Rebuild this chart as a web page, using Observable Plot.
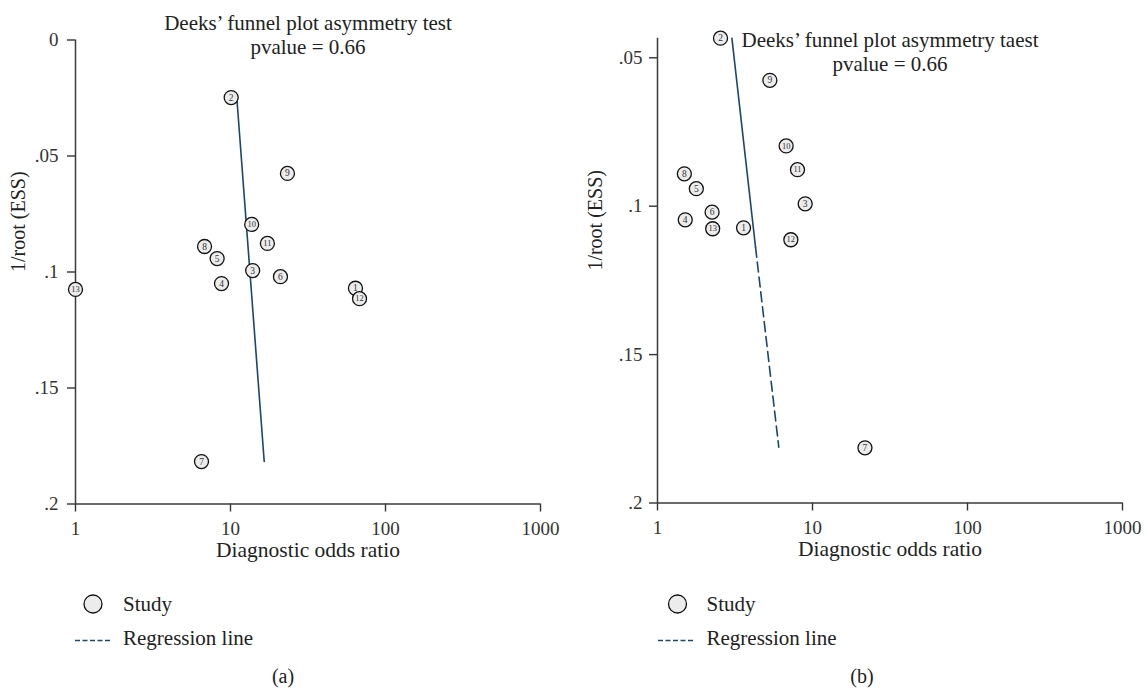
<!DOCTYPE html>
<html>
<head>
<meta charset="utf-8">
<script src="https://cdn.jsdelivr.net/npm/d3@7"></script>
<script src="https://cdn.jsdelivr.net/npm/@observablehq/plot@0.6"></script>
<style>
  body { margin: 0; background: #fff; }
  #wrap { position: relative; width: 1145px; height: 693px; background: #fff; overflow: hidden; }
  #wrap svg { position: absolute; }
  #wrap g[aria-label="x-axis tick"] path, #wrap g[aria-label="y-axis tick"] path { stroke-width: 1.4; }
  #wrap g[aria-label="x-axis tick label"], #wrap g[aria-label="y-axis tick label"] { font-size: 19px; }
</style>
</head>
<body>
<div id="wrap"></div>
<script>
// ---------- data ----------
const studies = ["1","2","3","4","5","6","7","8","9","10","11","12","13"];
const leftDOR = [64, 10.1, 13.9, 8.75, 8.2, 21.0, 6.5, 6.8, 23.3, 13.7, 17.3, 68, 1.0];
const leftInvRootESS = [0.107, 0.0248, 0.0994, 0.105, 0.0942, 0.102, 0.1817, 0.089, 0.0575, 0.0795, 0.0877, 0.1115, 0.1075];
const rightDOR = [3.59, 2.55, 8.97, 1.51, 1.78, 2.25, 21.8, 1.49, 5.31, 6.76, 8.0, 7.25, 2.27];
const rightInvRootESS = [0.1073, 0.0434, 0.0992, 0.1046, 0.0941, 0.102, 0.1814, 0.0891, 0.0576, 0.0797, 0.0877, 0.1113, 0.1076];

const leftLineDOR = [10.98, 16.5];
const leftLineY = [0.0248, 0.1817];
const rightLineSolidDOR = [3.02, 4.29];
const rightLineSolidY = [0.0434, 0.1138];
const rightLineDashDOR = [4.29, 6.06];
const rightLineDashY = [0.1138, 0.1812];

const xDomain = [1, 1000];
const xTicks = [1, 10, 100, 1000];
const leftYDomain = [0, 0.2];
const leftYTicks = [0, 0.05, 0.1, 0.15, 0.2];
const rightYDomain = [0.0434, 0.2];
const rightYTicks = [0.05, 0.1, 0.15, 0.2];

const leftTitle = ["Deeks\u2019 funnel plot asymmetry test", "pvalue = 0.66"];
const rightTitle = ["Deeks\u2019 funnel plot asymmetry taest", "pvalue = 0.66"];
const xLabel = "Diagnostic odds ratio";
const yLabel = "1/root (ESS)";
const legendLabels = ["Study", "Regression line"];
const captions = ["(a)", "(b)"];

// ---------- helpers ----------
const NAVY = "#1a476f";
const FONT = "'Liberation Serif', 'DejaVu Serif', serif";
const fmtY = v => v === 0 ? "0" : String(v).replace(/^0/, "");
const zip = (xs, ys) => xs.map((x, i) => ({x, y: ys[i]}));

function panel({dor, ys, yDomain, yTicks, lines, title, titleDy, marginLeft, marginRight, marginTop, marginBottom, width, tickPaddingY, yLabelDx}) {
  const rows = studies.map((s, i) => ({study: s, dor: dor[i], y: ys[i]}));
  const height = 570;
  return Plot.plot({
    width, height, marginLeft, marginRight, marginTop, marginBottom,
    style: {fontFamily: FONT, fontSize: "19px", color: "#333", background: "transparent"},
    x: {type: "log", domain: xDomain, ticks: xTicks, tickFormat: d => String(d), tickSize: 8, tickPadding: 9, label: null},
    y: {domain: yDomain, reverse: true, ticks: yTicks, tickFormat: fmtY, tickSize: 8, tickPadding: tickPaddingY, label: null},
    marks: [
      Plot.ruleX([xDomain[0]], {y1: yDomain[0], y2: yDomain[1], stroke: "#3a3a3a", strokeWidth: 1.5}),
      Plot.ruleY([yDomain[1]], {x1: xDomain[0], x2: xDomain[1], stroke: "#3a3a3a", strokeWidth: 1.5}),
      ...lines.map(l => Plot.line(zip(l.x, l.y), {x: "x", y: "y", stroke: NAVY, strokeWidth: 1.6, strokeDasharray: l.dash || null})),
      Plot.dot(rows, {x: "dor", y: "y", r: 7, fill: "#ececec", stroke: "#111", strokeWidth: 1.3}),
      Plot.text(rows.filter(d => d.study.length === 1), {x: "dor", y: "y", text: "study", fontSize: 9.5, fill: "#333"}),
      Plot.text(rows.filter(d => d.study.length > 1), {x: "dor", y: "y", text: "study", fontSize: 8.5, fill: "#333"}),
      Plot.text([title.join("\n")], {text: d => d, frameAnchor: "top", lineAnchor: "top", dy: titleDy, fontSize: 21, lineHeight: 1.143, fill: "#222"}),
      Plot.text([xLabel], {text: d => d, frameAnchor: "bottom", dy: 52.5, fontSize: 21.5, fill: "#222"}),
      Plot.text([yLabel], {text: d => d, frameAnchor: "left", rotate: -90, dx: yLabelDx, fontSize: 20, fill: "#222"})
    ]
  });
}

const wrap = document.getElementById("wrap");

const left = panel({
  dor: leftDOR, ys: leftInvRootESS, yDomain: leftYDomain, yTicks: leftYTicks,
  lines: [{x: leftLineDOR, y: leftLineY}],
  title: leftTitle, titleDy: -27.4,
  width: 560, marginLeft: 75, marginRight: 20, marginTop: 39.5, marginBottom: 66.5,
  tickPaddingY: 9, yLabelDx: -57
});
left.style.left = "0px"; left.style.top = "0px";
wrap.appendChild(left);

const right = panel({
  dor: rightDOR, ys: rightInvRootESS, yDomain: rightYDomain, yTicks: rightYTicks,
  lines: [{x: rightLineSolidDOR, y: rightLineSolidY}, {x: rightLineDashDOR, y: rightLineDashY, dash: "10,5"}],
  title: rightTitle, titleDy: -8.6,
  width: 565, marginLeft: 77, marginRight: 23, marginTop: 37.7, marginBottom: 67.5,
  tickPaddingY: 7, yLabelDx: -62
});
right.style.left = "580px"; right.style.top = "0px";
wrap.appendChild(right);

// ---------- legends and captions (below the plots) ----------
const ns = "http://www.w3.org/2000/svg";
const leg = document.createElementNS(ns, "svg");
leg.setAttribute("width", 1145); leg.setAttribute("height", 123);
leg.style.left = "0px"; leg.style.top = "570px";
leg.setAttribute("font-family", FONT);
function el(name, attrs, text) {
  const e = document.createElementNS(ns, name);
  for (const k in attrs) e.setAttribute(k, attrs[k]);
  if (text) e.textContent = text;
  leg.appendChild(e);
  return e;
}
const legendSpecs = [
  {cx: 93, textX: 123, lineX1: 75, lineX2: 110, capX: 283, cap: captions[0]},
  {cx: 677.5, textX: 706.5, lineX1: 658, lineX2: 695, capX: 862, cap: captions[1]}
];
for (const s of legendSpecs) {
  el("circle", {cx: s.cx, cy: 34, r: 9, fill: "#ececec", stroke: "#111", "stroke-width": 1.3});
  el("text", {x: s.textX, y: 40.5, "font-size": 21, fill: "#222"}, legendLabels[0]);
  el("line", {x1: s.lineX1, x2: s.lineX2, y1: 70.5, y2: 70.5, stroke: NAVY, "stroke-width": 1.3, "stroke-dasharray": "5,2.5"});
  el("text", {x: s.textX, y: 75, "font-size": 21, fill: "#222"}, legendLabels[1]);
  el("text", {x: s.capX, y: 113, "font-size": 20, fill: "#222", "text-anchor": "middle"}, s.cap);
}
wrap.appendChild(leg);
</script>
</body>
</html>
